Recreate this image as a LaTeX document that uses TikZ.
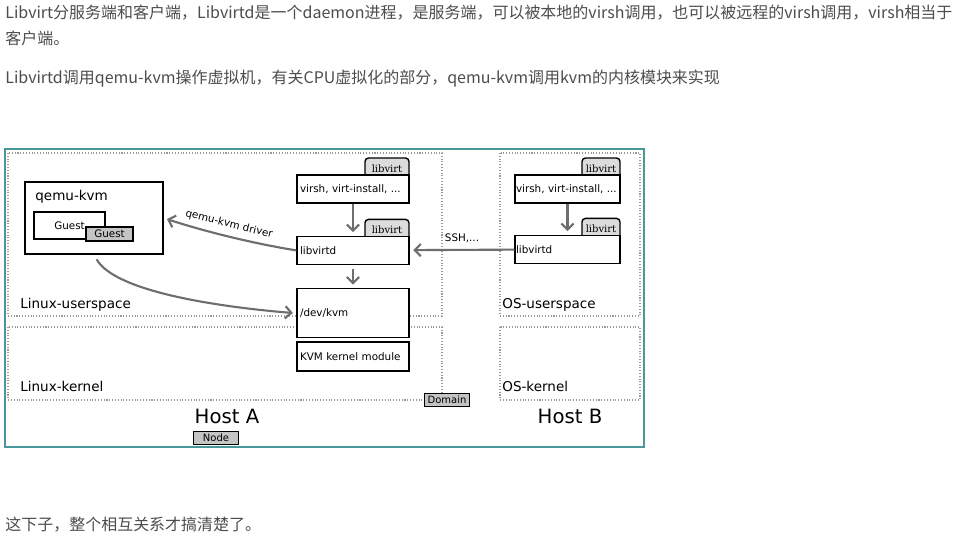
\documentclass[tikz,border=0pt]{standalone}
\usepackage{fontspec}
\setmainfont{DejaVu Sans}
\newfontfamily\cjk{Noto Sans CJK SC}
\newfontfamily\tabfont{DejaVu Serif}
\usetikzlibrary{arrows.meta,positioning}
\definecolor{txtgray}{HTML}{4D4D4D}
\definecolor{frameteal}{HTML}{4A9799}
\definecolor{linegray}{HTML}{6E6E6E}
\definecolor{dotgray}{HTML}{9A9A9A}
\definecolor{tabgray}{HTML}{DCDCDC}
\definecolor{labelgray}{HTML}{C4C4C4}
\pgfdeclarelayer{background}
\pgfsetlayers{background,main}
\tikzset{
  para/.style={font=\cjk\fontsize{9.1pt}{11pt}\selectfont, text=txtgray, anchor=west, inner sep=0pt},
  region/.style={dotgray, densely dotted, line width=0.6pt},
  regionname/.style={font=\fontsize{7.7pt}{9pt}\selectfont, anchor=west, inner sep=0pt},
  hostname/.style={font=\fontsize{11.2pt}{13pt}\selectfont, inner sep=0pt},
  box/.style={draw, fill=white, line width=0.8pt, inner sep=0.06cm, text width=2.12cm, align=left, minimum height=0.56cm, font=\fontsize{5.9pt}{7pt}\selectfont},
  smallbox/.style={box, inner xsep=0.02cm, text width=2.06cm},
  tab/.style={draw, fill=tabgray, line width=0.8pt, rounded corners=2pt, minimum width=0.88cm, minimum height=0.42cm, inner sep=0pt, anchor=north east, font=\tabfont\fontsize{5.7pt}{7pt}\selectfont},
  tag/.style={draw, fill=labelgray, line width=0.8pt, minimum width=0.9cm, minimum height=0.26cm, inner sep=0pt, font=\fontsize{5.7pt}{7pt}\selectfont},
  link/.style={linegray, line width=1.2pt, -{Straight Barb[length=3.5pt,width=7pt]}},
  linklabel/.style={text=black, font=\fontsize{5.9pt}{7pt}\selectfont}
}
\begin{document}
\begin{tikzpicture}[x=0.02cm, y=-0.02cm]
  \useasboundingbox (0,0) rectangle (953,540);
  \begin{pgfonlayer}{background}
    \fill[white] (0,0) rectangle (953,540);
  \end{pgfonlayer}
  \node[para] (line1) at (5,13) {Libvirt分服务端和客户端，Libvirtd是一个daemon进程，是服务端，可以被本地的virsh调用，也可以被远程的virsh调用，virsh相当于};
  \node[para] (line2) at (5,38) {客户端。};
  \node[para] (line3) at (5,79) {Libvirtd调用qemu-kvm操作虚拟机，有关CPU虚拟化的部分，qemu-kvm调用kvm的内核模块来实现};
  \node[para] (line4) at (5,525) {这下子，整个相互关系才搞清楚了。};

  \draw[region] (8,153) rectangle (442,316);
  \draw[region] (8,327) rectangle (442,400);
  \draw[region] (500,153) rectangle (640,316);
  \draw[region] (500,327) rectangle (640,400);
  \node[regionname] (userA) at (20,305) {Linux-userspace};
  \node[regionname] (kernelA) at (20,386) {Linux-kernel};
  \node[regionname] (userB) at (502,305) {OS-userspace};
  \node[regionname] (kernelB) at (502,386) {OS-kernel};
  \node[hostname] (hostA) at (227,416) {Host A};
  \node[hostname] (hostB) at (570,416) {Host B};
  \node[tag] (nodetag) at (216,438) {Node};
  \node[tag] (domaintag) at (447,400) {Domain};

  \node[draw, line width=0.8pt, minimum width=2.76cm, minimum height=1.44cm] (qemu) at (94,218) {};
  \node[regionname] (qemutitle) at (35,197) {qemu-kvm};
  \node[draw, line width=0.8pt, minimum width=1.42cm, minimum height=0.54cm, font=\fontsize{5.9pt}{7pt}\selectfont] (guest) at (69.5,225.5) {Guest};
  \node[tag, minimum width=0.94cm, minimum height=0.28cm, font=\fontsize{5.9pt}{7pt}\selectfont] (guesttag) at (109.5,234) {Guest};

  \node[box] (virshA) at (353,189) {virsh, virt-install, ...};
  \node[box, below=0.64cm of virshA] (libvirtdA) {libvirtd};
  \node[box, minimum height=0.98cm, below=0.46cm of libvirtdA] (devkvm) {/dev/kvm};
  \node[box, minimum height=0.58cm, below=0.06cm of devkvm] (kvmmod) {KVM kernel module};
  \node[smallbox] (virshB) at (567.5,189) {virsh, virt-install, ...};
  \node[smallbox, below=0.62cm of virshB] (libvirtdB) {libvirtd};
  \begin{pgfonlayer}{background}
    \node[tab] (tabA1) at ([yshift=0.34cm]virshA.north east) {libvirt};
    \node[tab] (tabA2) at ([yshift=0.34cm]libvirtdA.north east) {libvirt};
    \node[tab, minimum width=0.76cm] (tabB1) at ([yshift=0.34cm]virshB.north east) {libvirt};
    \node[tab, minimum width=0.76cm] (tabB2) at ([yshift=0.34cm]libvirtdB.north east) {libvirt};
  \end{pgfonlayer}

  \draw[link, shorten >=2pt] (virshA) -- (libvirtdA);
  \draw[link, shorten >=2pt, shorten <=2pt] (libvirtdA) -- (devkvm);
  \draw[link, shorten >=2pt] (virshB) -- (libvirtdB);
  \draw[link, shorten >=2pt] (libvirtdB) -- node[linklabel, above] (sshlabel) {SSH,...} (libvirtdA);
  \draw[link, shorten >=2pt] (libvirtdA.west) .. controls (250,243) and (200,230) .. node[linklabel, sloped, above] (driverlabel) {qemu-kvm driver} (qemu.east);
  \draw[link, shorten <=3pt, shorten >=2pt] (qemu.south) .. controls (115,292) and (220,307) .. (devkvm.west);

  \draw[frameteal, line width=1.2pt] (5,149) rectangle (644,447);
\end{tikzpicture}
\end{document}
